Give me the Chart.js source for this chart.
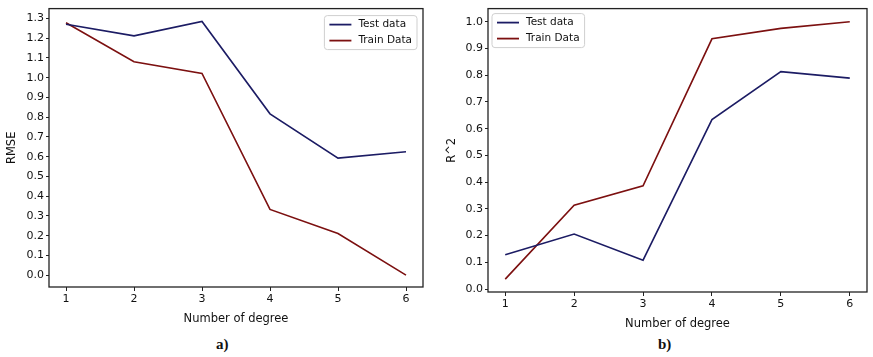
<!DOCTYPE html>
<html>
<head>
<meta charset="utf-8">
<script src="https://cdn.jsdelivr.net/npm/chart.js@4.4.1/dist/chart.umd.min.js"></script>
<style>
  html, body { margin: 0; padding: 0; background: #fff; }
  body { width: 873px; height: 357px; position: relative; overflow: hidden; }
  .box { position: absolute; top: 0; }
  .cap { position: absolute; font-family: "Liberation Serif", serif; font-weight: bold; font-size: 15px; color: #111; }
</style>
</head>
<body>
<div class="box" id="boxA" style="left:0;width:430px;height:330px"><canvas id="chartA"></canvas></div>
<div class="box" id="boxB" style="left:440px;width:433px;height:335px"><canvas id="chartB"></canvas></div>
<div class="cap" style="left:216px;top:336px">a)</div>
<div class="cap" style="left:658px;top:336px">b)</div>
<script>
const degrees = [1, 2, 3, 4, 5, 6];

// a) RMSE
const rmseTest  = [1.271, 1.212, 1.285, 0.817, 0.593, 0.625];
const rmseTrain = [1.278, 1.081, 1.022, 0.333, 0.211, 0.0];
const rmseTicks = [0.0, 0.1, 0.2, 0.3, 0.4, 0.5, 0.6, 0.7, 0.8, 0.9, 1.0, 1.1, 1.2, 1.3];

// b) R^2
const r2Test  = [0.128, 0.206, 0.108, 0.634, 0.813, 0.789];
const r2Train = [0.037, 0.314, 0.386, 0.936, 0.975, 1.0];
const r2Ticks = [0.0, 0.1, 0.2, 0.3, 0.4, 0.5, 0.6, 0.7, 0.8, 0.9, 1.0];

const seriesNames = ['Test data', 'Train Data'];
const testColor  = '#1c1c64';
const trainColor = '#7c1010';

const FONT = '"DejaVu Sans", sans-serif';
Chart.defaults.font.family = FONT;
Chart.defaults.color = '#111';

// frame around plot area + matplotlib-like legend box
const framePlugin = {
    id: 'frame',
    afterDatasetsDraw(chart, args, opts) {
        const a = chart.chartArea, ctx = chart.ctx;
        ctx.save();
        ctx.strokeStyle = '#222';
        ctx.lineWidth = 1.3;
        ctx.strokeRect(a.left, a.top, a.right - a.left, a.bottom - a.top);

        ctx.font = '10.5px ' + FONT;
        const sets = chart.data.datasets;
        const textW = Math.max(...sets.map(d => ctx.measureText(d.label).width));
        const w = 5 + 22 + 7 + textW + 5, rowH = 16, h = sets.length * rowH + 2;
        const x = opts.corner === 'ur' ? a.right - opts.dx - w : a.left + opts.dx;
        const y = a.top + opts.dy;
        ctx.beginPath();
        ctx.roundRect(x, y, w, h, 3);
        ctx.fillStyle = 'rgba(255,255,255,0.9)';
        ctx.fill();
        ctx.strokeStyle = '#cfcfcf';
        ctx.lineWidth = 1;
        ctx.stroke();
        sets.forEach((d, i) => {
            const cy = y + 1 + rowH * i + rowH / 2;
            ctx.beginPath();
            ctx.moveTo(x + 5, cy);
            ctx.lineTo(x + 27, cy);
            ctx.strokeStyle = d.borderColor;
            ctx.lineWidth = 1.8;
            ctx.stroke();
            ctx.fillStyle = '#111';
            ctx.textBaseline = 'middle';
            ctx.fillText(d.label, x + 34, cy);
        });
        ctx.restore();
    }
};

function makeChart(id, test, train, ticks, yMin, yMax, yTitle, plot, legend) {
    const ds = (label, data, color) => ({
        label: label,
        data: degrees.map((d, i) => ({ x: d, y: data[i] })),
        borderColor: color,
        backgroundColor: color,
        borderWidth: 1.6,
        pointRadius: 0,
        tension: 0,
        fill: false
    });
    return new Chart(document.getElementById(id), {
        type: 'line',
        data: { datasets: [ds(seriesNames[0], test, testColor), ds(seriesNames[1], train, trainColor)] },
        plugins: [framePlugin],
        options: {
            responsive: true,
            maintainAspectRatio: false,
            animation: false,
            layout: { padding: { top: plot.top, right: plot.right, left: 0, bottom: 0 } },
            plugins: {
                legend: { display: false },
                tooltip: { enabled: false },
                frame: legend
            },
            scales: {
                x: {
                    type: 'linear',
                    min: 0.75,
                    max: 6.25,
                    afterBuildTicks: s => { s.ticks = degrees.map(v => ({ value: v })); },
                    afterFit: s => { s.height = plot.xh; },
                    ticks: { font: { size: 11 }, padding: 2, maxRotation: 0, callback: v => String(v) },
                    grid: { drawOnChartArea: false, drawTicks: true, tickLength: 4, color: '#222' },
                    border: { display: false },
                    title: { display: true, text: 'Number of degree', font: { size: 11.5 }, padding: { top: 4, bottom: 4 } }
                },
                y: {
                    min: yMin,
                    max: yMax,
                    afterBuildTicks: s => { s.ticks = ticks.map(v => ({ value: v })); },
                    afterFit: s => { s.width = plot.left; },
                    ticks: { font: { size: 11 }, padding: 2, callback: v => v.toFixed(1) },
                    grid: { drawOnChartArea: false, drawTicks: true, tickLength: 3, color: '#222' },
                    border: { display: false },
                    title: { display: true, text: yTitle, font: { size: 11.5 }, padding: { top: 5, bottom: 0 } }
                }
            }
        }
    });
}

makeChart('chartA', rmseTest, rmseTrain, rmseTicks, -0.06, 1.35, 'RMSE',
    { top: 8, right: 7, left: 49, xh: 43 }, { corner: 'ur', dx: 6, dy: 7 });
makeChart('chartB', r2Test, r2Train, r2Ticks, -0.011, 1.049, 'R^2',
    { top: 4, right: 6, left: 48, xh: 43 }, { corner: 'ul', dx: 4, dy: 5 });
</script>
</body>
</html>
